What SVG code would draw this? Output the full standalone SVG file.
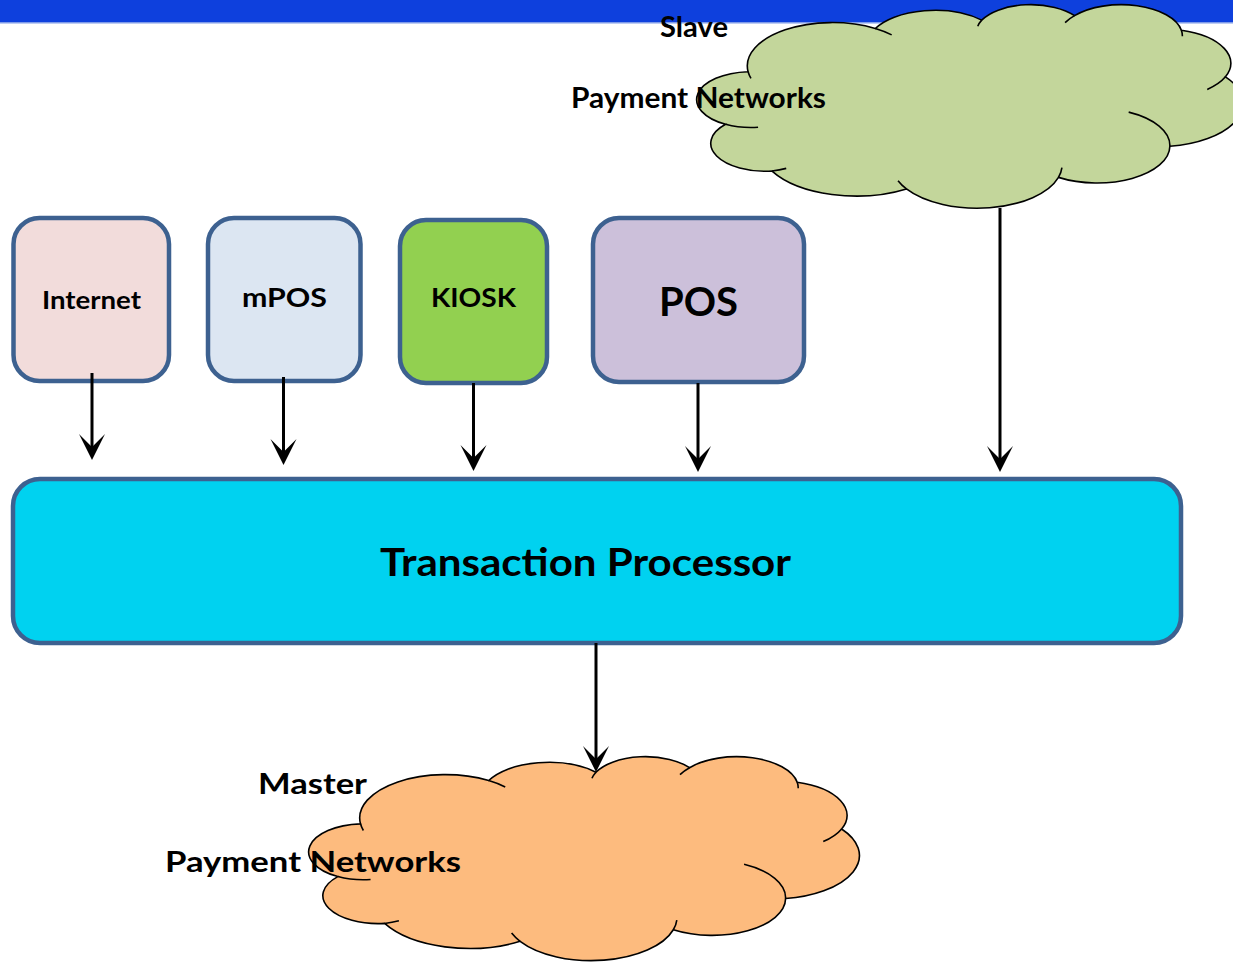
<svg xmlns="http://www.w3.org/2000/svg" xmlns:xlink="http://www.w3.org/1999/xlink" width="1233" height="962" viewBox="0 0 1233 962">
<style>
  .box { stroke: #3d6190; stroke-width: 4.5; }
  .lbl { font-family: Lato, "Open Sans", "Liberation Sans", sans-serif; font-weight: bold; fill: #000; }
  .conn { stroke: #000; stroke-width: 3; fill: none; marker-end: url(#arrow); }
  .cloudline { stroke: #000; stroke-width: 1.6; vector-effect: non-scaling-stroke; }
</style>
<defs>
  <marker id="arrow" markerUnits="userSpaceOnUse" viewBox="-27 -14 28 28" markerWidth="28" markerHeight="28" refX="-13" refY="0" orient="auto">
    <path d="M0,0 L-26,-13 L-13,0 L-26,13 Z" fill="#000"/>
  </marker>
  <path id="cloudOutline" class="cloudline" d="M3900 14370 A6753 9190 0 0 1 14004 5200 A5333 7267 0 0 1 22455 3430 A4365 5945 0 0 1 29830 2477 A4857 6595 0 0 1 38315 5571 A5333 7273 0 0 1 41815 15457 A6775 9220 0 0 1 37401 30201 A5785 7867 0 0 1 28552 36812 A6752 9215 0 0 1 16478 39266 A7720 10543 0 0 1 5802 35471 A4360 5918 0 0 1 2112 25547 A4345 5945 0 0 1 3900 14370 Z"/>
  <path id="cloudInner" class="cloudline" fill="none" d="M4693 26177 A4345 5945 0 0 1 2112 25547 M6928 34899 A4360 5918 0 0 1 5802 35471 M16478 39266 A6752 9215 0 0 1 15809 37523 M28827 34751 A6752 9215 0 0 1 28552 36812 M34129 22954 A5785 7867 0 0 1 37401 30201 M41815 15457 A5333 7273 0 0 1 40367 18132 M38315 5571 A4857 6595 0 0 1 38392 6836 M29078 3952 A4857 6595 0 0 1 29830 2477 M22141 4720 A4365 5945 0 0 1 22455 3430 M14004 5200 A6753 9190 0 0 1 15305 6549 M4127 15789 A6753 9190 0 0 1 3900 14370"/>
</defs>

<g id="header">
  <rect x="0" y="0" width="1233" height="22" fill="#0e40dd"/>
  <rect x="0" y="22" width="1233" height="1.5" fill="#7f9be9"/>
</g>

<g id="slave-networks">
  <g transform="translate(699,4) scale(0.01259,0.00471)">
    <use xlink:href="#cloudOutline" fill="#c3d69b"/>
    <use xlink:href="#cloudInner"/>
  </g>
  <text class="lbl" x="660" y="37" font-size="28" textLength="68" lengthAdjust="spacingAndGlyphs">Slave</text>
  <text class="lbl" x="571" y="108" font-size="28" textLength="255" lengthAdjust="spacingAndGlyphs">Payment Networks</text>
</g>

<g id="internet">
  <rect class="box" x="13.5" y="218" width="155.5" height="163" rx="26" fill="#f2dcdb"/>
  <text class="lbl" x="42" y="308.5" font-size="24" textLength="99" lengthAdjust="spacingAndGlyphs">Internet</text>
</g>
<g id="mpos">
  <rect class="box" x="208" y="218" width="152.5" height="163" rx="26" fill="#dce6f2"/>
  <text class="lbl" x="242" y="307" font-size="27" textLength="85" lengthAdjust="spacingAndGlyphs">mPOS</text>
</g>
<g id="kiosk">
  <rect class="box" x="400" y="220" width="147" height="163" rx="26" fill="#92d050"/>
  <text class="lbl" x="431" y="307" font-size="27" textLength="85" lengthAdjust="spacingAndGlyphs">KIOSK</text>
</g>
<g id="pos">
  <rect class="box" x="593" y="218" width="211" height="164" rx="26" fill="#ccc0da"/>
  <text class="lbl" x="659" y="315.5" font-size="40" textLength="79" lengthAdjust="spacingAndGlyphs">POS</text>
</g>

<g id="transaction-processor">
  <rect class="box" x="13" y="479" width="1168" height="164" rx="27" fill="#00d2f0"/>
  <text class="lbl" x="380" y="576" font-size="39" textLength="411" lengthAdjust="spacingAndGlyphs">Transaction Processor</text>
</g>

<g id="master-networks">
  <g transform="translate(311,756) scale(0.01269,0.00472)">
    <use xlink:href="#cloudOutline" fill="#fdbb7e"/>
    <use xlink:href="#cloudInner"/>
  </g>
  <text class="lbl" x="258" y="794" font-size="29" textLength="109" lengthAdjust="spacingAndGlyphs">Master</text>
  <text class="lbl" x="165" y="872" font-size="28" textLength="296" lengthAdjust="spacingAndGlyphs">Payment Networks</text>
</g>

<g id="connectors">
  <line class="conn" x1="92" y1="373" x2="92" y2="447"/>
  <line class="conn" x1="283.5" y1="377" x2="283.5" y2="452"/>
  <line class="conn" x1="473.5" y1="383" x2="473.5" y2="458"/>
  <line class="conn" x1="698" y1="383" x2="698" y2="459"/>
  <line class="conn" x1="1000" y1="208" x2="1000" y2="459"/>
  <line class="conn" x1="596" y1="643" x2="596" y2="759"/>
</g>
</svg>
